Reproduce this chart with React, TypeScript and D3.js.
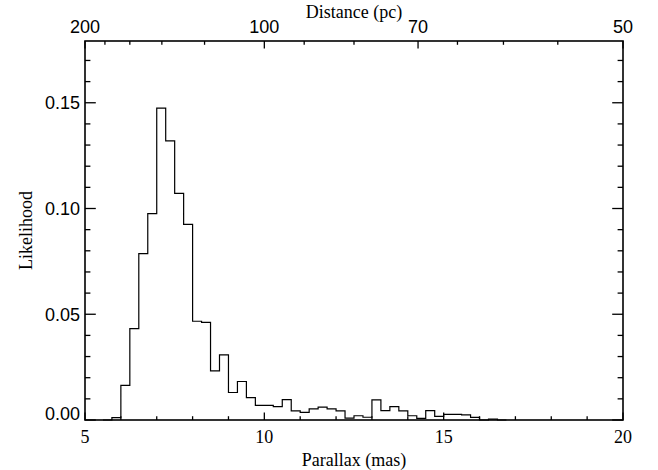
import React from "react";
import * as d3 from "d3";

// Histogram bin lower edges (mas) and likelihood values
const binEdges = [
  5.5, 5.75, 6.0, 6.25, 6.5, 6.75, 7.0, 7.25, 7.5, 7.75, 8.0, 8.25, 8.5, 8.75,
  9.0, 9.25, 9.5, 9.75, 10.0, 10.25, 10.5, 10.75, 11.0, 11.25, 11.5, 11.75,
  12.0, 12.25, 12.5, 12.75, 13.0, 13.25, 13.5, 13.75, 14.0, 14.25, 14.5, 14.75,
  15.0, 15.25, 15.5, 15.75, 16.0, 16.25, 16.5,
];
const likelihood = [
  0.0, 0.0011, 0.0164, 0.0432, 0.0787, 0.0976, 0.1475, 0.132, 0.1072, 0.0925,
  0.0467, 0.0462, 0.0232, 0.0308, 0.013, 0.0182, 0.0106, 0.0069, 0.0069,
  0.0063, 0.0096, 0.0043, 0.0036, 0.0053, 0.0061, 0.0053, 0.0043, 0.0009,
  0.002, 0.0013, 0.0095, 0.0044, 0.0063, 0.0043, 0.002, 0.0008, 0.0044,
  0.0017, 0.0027, 0.0027, 0.0024, 0.0012, 0.0, 0.0004, 0.0,
];
const binWidth = 0.25;

const xMajor = [5, 10, 15, 20];
const xMinor = [6, 7, 8, 9, 11, 12, 13, 14, 16, 17, 18, 19];
const yMajor = [0, 0.05, 0.1, 0.15];
const yMinor = [0.01, 0.02, 0.03, 0.04, 0.06, 0.07, 0.08, 0.09, 0.11, 0.12, 0.13, 0.14, 0.16, 0.17];
const distMajor = [200, 100, 70, 50];
const distMinor = [180, 160, 140, 120, 90, 80, 65, 60, 55];

const W = 658;
const H = 470;
const L = 85, R = 623, T = 41, B = 420;

export default function App() {
  const x = d3.scaleLinear().domain([5, 20]).range([L, R]);
  const y = d3.scaleLinear().domain([0, 0.1792]).range([B, T]);
  const dist = (d: number) => x(1000 / d);

  const pts: [number, number][] = binEdges.map((e, i) => [e, likelihood[i]]);
  pts.push([binEdges[binEdges.length - 1] + binWidth, likelihood[likelihood.length - 1]]);
  const line = d3
    .line<[number, number]>()
    .x((d) => x(d[0]))
    .y((d) => y(d[1]))
    .curve(d3.curveStepAfter);

  const sans = "'Liberation Sans', Arial, sans-serif";
  const serif = "'Liberation Serif', 'Times New Roman', serif";
  const fs = 18;
  const xMajLen = 7.5, xMinLen = 3.8, yMajLen = 10.8, yMinLen = 5.4;
  const stroke = "#000";

  return (
    <svg width={W} height={H} style={{ position: "absolute", left: 0, top: 0, background: "#fff" }}>
      <rect x={0} y={0} width={W} height={H} fill="#fff" />
      {/* histogram */}
      <path d={line(pts) || ""} fill="none" stroke={stroke} strokeWidth={1.2} />
      {/* frame */}
      <rect x={L} y={T} width={R - L} height={B - T} fill="none" stroke={stroke} strokeWidth={1.6} />
      {/* bottom ticks */}
      {xMajor.map((v) => (
        <g key={"xb" + v}>
          <line x1={x(v)} x2={x(v)} y1={B} y2={B - xMajLen} stroke={stroke} strokeWidth={1.3} />
          <text x={x(v)} y={443} textAnchor="middle" fontFamily={serif} fontSize={fs}>
            {v}
          </text>
        </g>
      ))}
      {xMinor.map((v) => (
        <line key={"xm" + v} x1={x(v)} x2={x(v)} y1={B} y2={B - xMinLen} stroke={stroke} strokeWidth={1.3} />
      ))}
      {/* top ticks (distance) */}
      {distMajor.map((d) => (
        <g key={"dt" + d}>
          <line x1={dist(d)} x2={dist(d)} y1={T} y2={T + xMajLen} stroke={stroke} strokeWidth={1.3} />
          <text x={dist(d)} y={33} textAnchor="middle" fontFamily={sans} fontSize={fs}>
            {d}
          </text>
        </g>
      ))}
      {distMinor.map((d) => (
        <line key={"dm" + d} x1={dist(d)} x2={dist(d)} y1={T} y2={T + xMinLen} stroke={stroke} strokeWidth={1.3} />
      ))}
      {/* left / right ticks */}
      {yMajor.map((v) => (
        <g key={"ym" + v}>
          <line x1={L} x2={L + yMajLen} y1={y(v)} y2={y(v)} stroke={stroke} strokeWidth={1.3} />
          <line x1={R} x2={R - yMajLen} y1={y(v)} y2={y(v)} stroke={stroke} strokeWidth={1.3} />
          <text
            x={80}
            y={y(v) - (v === 0 ? 6 : 0)}
            dy="0.35em"
            textAnchor="end"
            fontFamily={sans}
            fontSize={fs}
          >
            {d3.format(".2f")(v)}
          </text>
        </g>
      ))}
      {yMinor.map((v) => (
        <g key={"yn" + v}>
          <line x1={L} x2={L + yMinLen} y1={y(v)} y2={y(v)} stroke={stroke} strokeWidth={1.3} />
          <line x1={R} x2={R - yMinLen} y1={y(v)} y2={y(v)} stroke={stroke} strokeWidth={1.3} />
        </g>
      ))}
      {/* titles */}
      <text x={(L + R) / 2} y={466} textAnchor="middle" fontFamily={serif} fontSize={fs}>
        Parallax (mas)
      </text>
      <text x={(L + R) / 2} y={18} textAnchor="middle" fontFamily={serif} fontSize={fs}>
        Distance (pc)
      </text>
      <text
        transform={`translate(32, ${(T + B) / 2}) rotate(-90)`}
        textAnchor="middle"
        fontFamily={serif}
        fontSize={fs}
      >
        Likelihood
      </text>
    </svg>
  );
}
